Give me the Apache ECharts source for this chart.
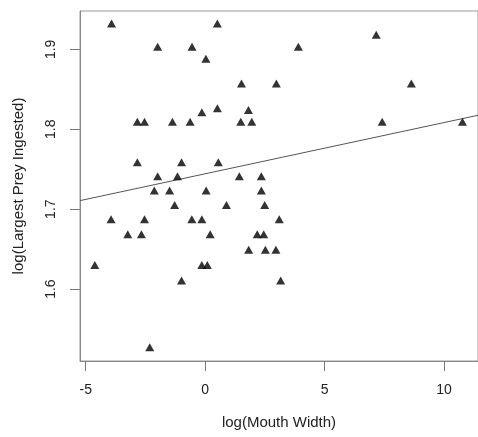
<!DOCTYPE html>
<html>
<head>
<meta charset="utf-8">
<script src="https://cdn.jsdelivr.net/npm/echarts@6/dist/echarts.min.js"></script>
<style>html,body{margin:0;padding:0;background:#fff}#c{width:478px;height:437px}</style>
</head>
<body>
<div id="c"></div>
<script>
// log(Mouth Width)
const mouthWidth = [
  -3.92, 0.51, -1.99, -0.55, 0.03, 1.52, 0.51, -0.14, 1.81,
  -2.84, -2.54, -1.37, -0.63, 1.49, 1.95,
  -2.84, -0.99, 0.55, -1.99, -1.16, 1.43, 2.35,
  7.16, 3.90, 2.98, 8.63, 7.41, 10.77,
  -2.13, -1.49, 0.04, 2.35, -1.28, 0.89, 2.49,
  -3.94, -2.54, -0.56, -0.14, 3.10,
  -3.24, -2.67, 0.21, 2.18, 2.45,
  1.82, 2.52, 2.96,
  -4.62, -0.14, 0.09, -0.99, 3.16, -2.32
];
// log(Largest Prey Ingested)
const largestPrey = [
  1.931, 1.931, 1.902, 1.902, 1.887, 1.856, 1.825, 1.820, 1.823,
  1.808, 1.808, 1.808, 1.808, 1.808, 1.808,
  1.7575, 1.7575, 1.7575, 1.740, 1.740, 1.740, 1.740,
  1.917, 1.902, 1.856, 1.856, 1.808, 1.808,
  1.722, 1.722, 1.722, 1.722, 1.704, 1.704, 1.704,
  1.686, 1.686, 1.686, 1.686, 1.686,
  1.6675, 1.6675, 1.6675, 1.6675, 1.6675,
  1.648, 1.648, 1.648,
  1.629, 1.629, 1.629, 1.6095, 1.6095, 1.526
];
// fitted regression line (intercept, slope)
const fitIntercept = 1.7443;
const fitSlope = 0.00641;
const xTicks = [-5, 0, 5, 10];
const yTicks = [1.6, 1.7, 1.8, 1.9];
const xLim = [-5.24, 11.42];
const yLim = [1.510, 1.948];

const points = mouthWidth.map((x, i) => [x, largestPrey[i]]);
const fitLine = xLim.map(x => [x, fitIntercept + fitSlope * x]);

const font = '"Liberation Sans", Arial, Helvetica, sans-serif';
const chart = echarts.init(document.getElementById('c'), null, {renderer: 'canvas'});
chart.setOption({
  animation: false,
  backgroundColor: '#fff',
  grid: {left: 80, top: 11, width: 404, height: 350, show: true, borderColor: '#999', borderWidth: 1, backgroundColor: 'transparent'},
  xAxis: {
    type: 'value', min: xLim[0], max: xLim[1],
    name: 'log(Mouth Width)', nameLocation: 'middle', nameGap: 54,
    nameTextStyle: {fontFamily: font, fontSize: 15, color: '#222'},
    axisLine: {show: true, onZero: false, lineStyle: {color: '#888', width: 1}},
    axisTick: {show: true, length: 10, customValues: xTicks, lineStyle: {color: '#777'}},
    axisLabel: {customValues: xTicks, margin: 22, fontFamily: font, fontSize: 14, color: '#222'},
    splitLine: {show: false}
  },
  yAxis: {
    type: 'value', min: yLim[0], max: yLim[1],
    name: 'log(Largest Prey Ingested)', nameLocation: 'middle', nameGap: 54, nameRotate: 90,
    nameTextStyle: {fontFamily: font, fontSize: 15, color: '#222'},
    axisLine: {show: true, onZero: false, lineStyle: {color: '#888', width: 1}},
    axisTick: {show: true, length: 10, customValues: yTicks, lineStyle: {color: '#777'}},
    axisLabel: {customValues: yTicks, rotate: 90, margin: 22, fontFamily: font, fontSize: 14, color: '#222',
      formatter: v => v.toFixed(1)},
    splitLine: {show: false}
  },
  series: [
    {
      type: 'line', data: fitLine, symbol: 'none', silent: true,
      lineStyle: {color: '#555', width: 1}, z: 1
    },
    {
      type: 'scatter', data: points, symbol: 'triangle', symbolSize: [9, 8], symbolOffset: [0, -1],
      itemStyle: {color: '#000'}, z: 2
    }
  ]
});
</script>
</body>
</html>
